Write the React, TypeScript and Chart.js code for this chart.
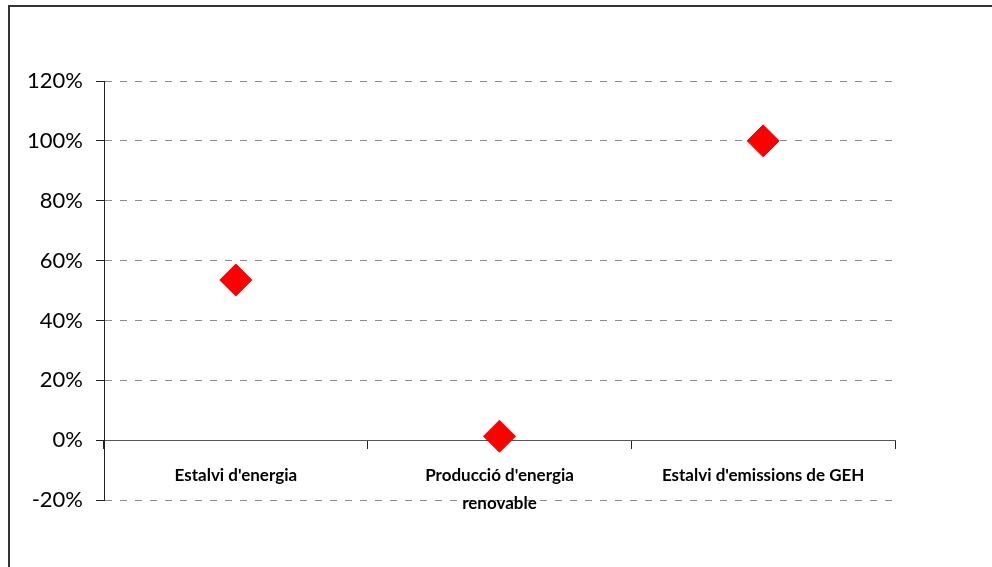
import React, { useEffect, useRef } from "react";
import { Chart, registerables } from "chart.js";

Chart.register(...registerables);

const categories: (string | string[])[] = [
  "Estalvi d'energia",
  ["Producció d'energia", "renovable"],
  "Estalvi d'emissions de GEH",
];
const values: number[] = [53.5, 1.3, 100];
const yMin = -20;
const yMax = 120;
const yStep = 20;

export default function App() {
  const ref = useRef<HTMLCanvasElement | null>(null);

  useEffect(() => {
    if (!ref.current) return;
    const chart = new Chart(ref.current, {
      type: "line",
      data: {
        labels: categories,
        datasets: [
          {
            data: values,
            showLine: false,
            pointStyle: "rectRot",
            pointRadius: 16,
            pointHoverRadius: 16,
            borderWidth: 1,
            backgroundColor: "#ff0000",
            borderColor: "#ff0000",
          },
        ],
      },
      options: {
        animation: false,
        responsive: false,
        events: [],
        layout: { padding: { left: 0, top: 81, right: 97, bottom: 67 } },
        plugins: { legend: { display: false }, tooltip: { enabled: false } },
        scales: {
          x: {
            type: "category",
            position: { y: 0 } as any,
            offset: true,
            afterFit: (s: any) => {
              s.height = 0;
            },
            grid: {
              drawOnChartArea: false,
              offset: true,
              drawTicks: true,
              tickLength: 8,
              color: "#222",
              tickColor: "#222",
              lineWidth: 1,
            },
            border: { display: true, color: "#555", width: 1 },
            ticks: {
              color: "#000",
              padding: 13,
              maxRotation: 0,
              autoSkip: false,
              font: { family: "Lato", size: 17, weight: "bold", lineHeight: 1.65 },
            },
          },
          y: {
            min: yMin,
            max: yMax,
            afterFit: (s: any) => {
              s.width = 104;
            },
            grid: {
              color: (c: any) => (c.tick && c.tick.value === 0 ? "rgba(0,0,0,0)" : "#8c8c8c"),
              tickColor: "#222",
              tickLength: 8,
              lineWidth: 1,
            },
            border: { display: true, color: "#222", width: 1, dash: [7, 8] },
            ticks: {
              stepSize: yStep,
              color: "#000",
              padding: 13,
              font: { family: "Lato", size: 22 },
              callback: (v: any) => `${v}%`,
            },
          },
        },
      },
    });
    return () => chart.destroy();
  }, []);

  return (
    <div
      style={{
        position: "fixed",
        left: 0,
        top: 0,
        width: 992,
        height: 567,
        overflow: "hidden",
        background: "#fff",
      }}
    >
      <div
        style={{
          position: "absolute",
          left: 8,
          top: 5,
          width: 1100,
          height: 700,
          border: "2px solid #333",
          boxSizing: "border-box",
        }}
      />
      <canvas
        ref={ref}
        width={992}
        height={567}
        style={{ position: "absolute", left: 0, top: 0, width: 992, height: 567 }}
      />
    </div>
  );
}
